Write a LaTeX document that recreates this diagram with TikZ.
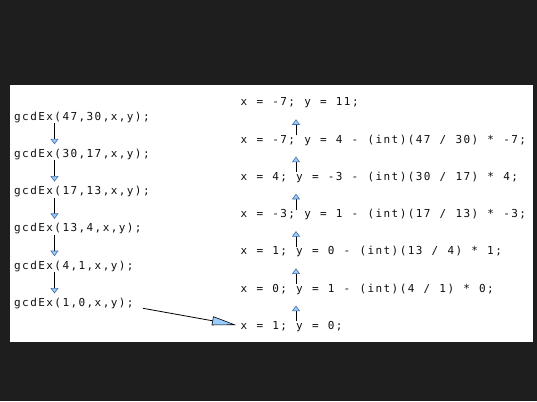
\documentclass[tikz,border=0pt]{standalone}
\usepackage{fontspec}
\setmonofont[LetterSpace=13]{DejaVu Sans Mono}
\usetikzlibrary{arrows.meta,calc}
\definecolor{bgdark}{RGB}{30,30,30}
\definecolor{txt}{RGB}{15,15,15}
\definecolor{arrowfill}{RGB}{153,204,250}
\definecolor{arrowedge}{RGB}{70,110,170}
\newcommand{\mycodefont}{\ttfamily\fontsize{11pt}{13pt}\selectfont}
\newcommand{\mycodespaces}{\frenchspacing\spaceskip=9.2pt\relax\xspaceskip=9.2pt\relax}
\tikzset{
  code/.style={anchor=base west, inner sep=0pt, text=txt, font=\mycodefont,
    execute at begin node=\mycodespaces},
  smallarr/.style={draw=black, line width=0.8pt,
    -{Triangle[length=5.5pt,width=8pt,fill=arrowfill,color=arrowedge,line width=0.6pt]}},
  bigarr/.style={draw=black, line width=0.8pt,
    -{Triangle[length=24pt,width=9pt,fill=arrowfill,color=black,line width=0.6pt]}},
}
\begin{document}
\begin{tikzpicture}[x=1pt,y=-1pt]
\useasboundingbox (0,0) rectangle (537,401);
\fill[bgdark] (0,0) rectangle (537,401);
\fill[white] (10,85) rectangle (533,342);
% left column
\node[code] (L1) at (14,120.0) {gcdEx(47,30,x,y);};
\node[code] (L2) at (14,157.3) {gcdEx(30,17,x,y);};
\node[code] (L3) at (14,194.6) {gcdEx(17,13,x,y);};
\node[code] (L4) at (14,231.9) {gcdEx(13,4,x,y);};
\node[code] (L5) at (14,269.2) {gcdEx(4,1,x,y);};
\node[code] (L6) at (14,306.5) {gcdEx(1,0,x,y);};
% right column
\node[code] (R1) at (240.5,105.7) {x = -7; y = 11;};
\node[code] (R2) at (240.5,143.0) {x = -7; y = 4 - (int)(47 / 30) * -7;};
\node[code] (R3) at (240.5,180.2) {x = 4; y = -3 - (int)(30 / 17) * 4;};
\node[code] (R4) at (240.5,217.5) {x = -3; y = 1 - (int)(17 / 13) * -3;};
\node[code] (R5) at (240.5,254.8) {x = 1; y = 0 - (int)(13 / 4) * 1;};
\node[code] (R6) at (240.5,292.0) {x = 0; y = 1 - (int)(4 / 1) * 0;};
\node[code] (R7) at (240.5,329.3) {x = 1; y = 0;};
% down arrows
\foreach \a/\b in {L1/L2,L2/L3,L3/L4,L4/L5,L5/L6}
  \draw[smallarr] ($(\a.base west)+(40.5,3)$) -- ($(\b.base west)+(40.5,-13)$);
% up arrows
\foreach \a/\b in {R2/R1,R3/R2,R4/R3,R5/R4,R6/R5,R7/R6}
  \draw[smallarr] ($(\a.base west)+(55.5,-8)$) -- ($(\b.base west)+(55.5,13.6)$);
% long arrow
\coordinate (s) at ($(L6.base west)+(129,1.8)$);
\coordinate (t) at ($(R7.base west)+(-4.5,-4.3)$);
\draw[bigarr] (s) -- (t);
\end{tikzpicture}
\end{document}
